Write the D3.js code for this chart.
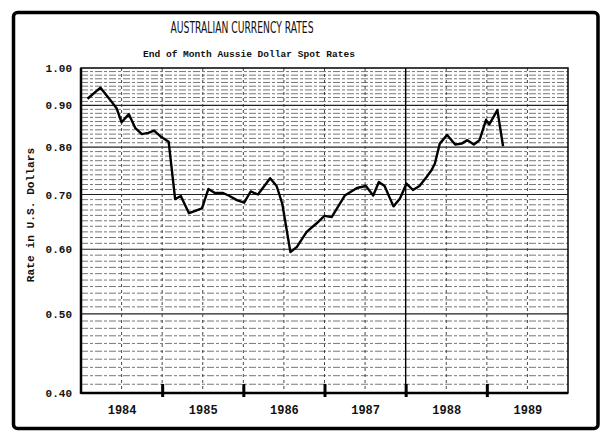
<!DOCTYPE html>
<html>
<head>
<meta charset="utf-8">
<script src="https://cdn.jsdelivr.net/npm/d3@7"></script>
<style>
  html, body { margin: 0; padding: 0; background: #fff; }
  svg { display: block; }
</style>
</head>
<body>
<svg id="chart" width="615" height="441"></svg>
<script>
// ---- data (decimal year, rate in US$) ----
const dates = [
  1984.08, 1984.24, 1984.36, 1984.44, 1984.50, 1984.59, 1984.67, 1984.75, 1984.83, 1984.90,
  1984.99, 1985.08, 1985.16, 1985.23, 1985.33, 1985.40, 1985.49, 1985.57, 1985.65, 1985.75,
  1985.83, 1985.92, 1986.01, 1986.09, 1986.18, 1986.33, 1986.41, 1986.48, 1986.58, 1986.66,
  1986.78, 1986.90, 1987.00, 1987.09, 1987.25, 1987.40, 1987.51, 1987.60, 1987.67, 1987.74,
  1987.85, 1987.93, 1988.01, 1988.09, 1988.17, 1988.26, 1988.32, 1988.36, 1988.42, 1988.51,
  1988.61, 1988.69, 1988.76, 1988.84, 1988.91, 1988.99, 1989.03, 1989.13, 1989.20
];
const rates = [
  0.917, 0.946, 0.914, 0.892, 0.858, 0.878, 0.844, 0.830, 0.833, 0.838,
  0.823, 0.812, 0.691, 0.697, 0.664, 0.668, 0.673, 0.711, 0.703, 0.703,
  0.697, 0.689, 0.684, 0.706, 0.700, 0.733, 0.717, 0.682, 0.595, 0.604,
  0.630, 0.645, 0.659, 0.657, 0.698, 0.713, 0.717, 0.698, 0.725, 0.717,
  0.677, 0.692, 0.722, 0.709, 0.717, 0.736, 0.750, 0.764, 0.808, 0.828,
  0.806, 0.808, 0.816, 0.806, 0.816, 0.864, 0.853, 0.888, 0.802
];
const yTicks = [0.40, 0.50, 0.60, 0.70, 0.80, 0.90, 1.00];
const yearBoundaries = [1985, 1986, 1987, 1988, 1989];
const yearLabels = [1984, 1985, 1986, 1987, 1988, 1989];
const titleText = "AUSTRALIAN CURRENCY RATES";
const subtitleText = "End of Month Aussie Dollar Spot Rates";
const yTitle = "Rate in U.S. Dollars";

// ---- layout ----
const svg = d3.select("#chart");
const pL = 81, pR = 568, pT = 68, pB = 393;
const x = d3.scaleLinear().domain([1984, 1990]).range([pL, pR]);
const y = d3.scaleLog().domain([0.4, 1.0]).range([pB, pT]);
const mono = "'Liberation Mono', 'DejaVu Sans Mono', monospace";

svg.append("rect").attr("width", 615).attr("height", 441).attr("fill", "#fff");

// outer frame
svg.append("rect")
  .attr("x", 13.5).attr("y", 12.5).attr("width", 584.5).attr("height", 416)
  .attr("rx", 4).attr("fill", "none").attr("stroke", "#000").attr("stroke-width", 3.5);

// titles
svg.append("text")
  .attr("x", 242).attr("y", 33).attr("text-anchor", "middle")
  .attr("font-family", "'Liberation Sans Narrow', 'DejaVu Sans Condensed', 'Liberation Sans', sans-serif")
  .attr("font-size", 16.5).attr("textLength", 143).attr("lengthAdjust", "spacingAndGlyphs")
  .attr("fill", "#111").text(titleText);

svg.append("text")
  .attr("x", 249).attr("y", 57).attr("text-anchor", "middle")
  .attr("font-family", mono).attr("font-weight", "bold")
  .attr("font-size", 9.6).attr("textLength", 212).attr("lengthAdjust", "spacingAndGlyphs")
  .attr("fill", "#111").text(subtitleText);

// grid
const g = svg.append("g");
const minor = d3.range(41, 100).filter(d => d % 10 !== 0).map(d => d / 100);
g.selectAll("line.minor").data(minor).join("line")
  .attr("x1", pL).attr("x2", pR)
  .attr("y1", d => y(d)).attr("y2", d => y(d))
  .attr("stroke", "#555").attr("stroke-width", 0.8).attr("stroke-dasharray", "7,2,3,2");

const majors = yTicks.filter(d => d > 0.41 && d < 0.99);
g.selectAll("line.major").data(majors).join("line")
  .attr("x1", pL).attr("x2", pR)
  .attr("y1", d => y(d)).attr("y2", d => y(d))
  .attr("stroke", "#222").attr("stroke-width", 1.1);

const vlines = d3.range(1984.5, 1990, 0.5);
g.selectAll("line.v").data(vlines).join("line")
  .attr("x1", d => x(d)).attr("x2", d => x(d))
  .attr("y1", pT).attr("y2", pB)
  .attr("stroke", d => d === 1988 ? "#000" : "#333")
  .attr("stroke-width", d => d === 1988 ? 1.4 : 0.9)
  .attr("stroke-dasharray", d => d === 1988 ? null : "3,3");

// plot frame
svg.append("rect").attr("x", pL).attr("y", pT)
  .attr("width", pR - pL).attr("height", pB - pT)
  .attr("fill", "none").attr("stroke", "#000").attr("stroke-width", 1.5);
svg.append("line").attr("x1", pL).attr("x2", pL).attr("y1", pT).attr("y2", pB + 1)
  .attr("stroke", "#000").attr("stroke-width", 2.5);
svg.append("line").attr("x1", pL).attr("x2", pR).attr("y1", pB).attr("y2", pB)
  .attr("stroke", "#000").attr("stroke-width", 2.5);

// y axis
const yAxis = svg.append("g").attr("transform", `translate(${pL},0)`)
  .call(d3.axisLeft(y).tickValues(yTicks).tickSize(0).tickPadding(9).tickFormat(d3.format(".2f")));
yAxis.select(".domain").remove();
yAxis.selectAll("text").attr("font-family", mono).attr("font-weight", "bold")
  .attr("font-size", 11).attr("fill", "#111");

// x axis year boundary ticks
const xAxis = svg.append("g").attr("transform", `translate(0,${pB})`)
  .call(d3.axisBottom(x).tickValues(yearBoundaries).tickSize(4).tickFormat(""));
xAxis.select(".domain").remove();
xAxis.selectAll(".tick line").attr("y1", -9).attr("y2", 4)
  .attr("stroke", "#000").attr("stroke-width", 3);

// x labels at mid-year
const xLab = svg.append("g").attr("transform", `translate(0,${pB})`)
  .call(d3.axisBottom(x).tickValues(yearLabels.map(d => d + 0.5)).tickSize(0).tickPadding(12)
    .tickFormat(d => String(Math.floor(d))));
xLab.select(".domain").remove();
xLab.selectAll("text").attr("font-family", mono).attr("font-weight", "bold")
  .attr("font-size", 12).attr("fill", "#111");

// y title
svg.append("text")
  .attr("transform", "translate(34,215) rotate(-90)")
  .attr("text-anchor", "middle")
  .attr("font-family", mono).attr("font-weight", "bold").attr("font-size", 11.2)
  .attr("fill", "#111").text(yTitle);

// line
const pts = dates.map((d, i) => [d, rates[i]]);
svg.append("path").datum(pts)
  .attr("fill", "none").attr("stroke", "#000").attr("stroke-width", 2.4)
  .attr("stroke-linejoin", "round")
  .attr("d", d3.line().x(d => x(d[0])).y(d => y(d[1])));
</script>
</body>
</html>
